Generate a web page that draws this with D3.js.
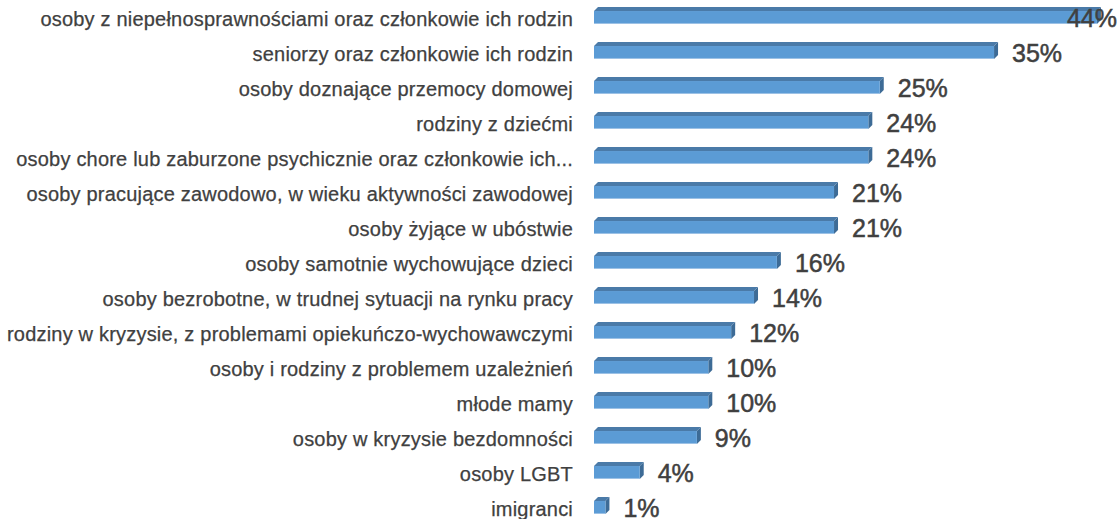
<!DOCTYPE html>
<html>
<head>
<meta charset="utf-8">
<script src="https://cdn.jsdelivr.net/npm/d3@7"></script>
<style>
  body { margin: 0; background: #fff; }
  svg { display: block; }
</style>
</head>
<body>
<svg id="chart" width="1119" height="519"></svg>
<script>
// categories, top to bottom
var categories = [
  "osoby z niepełnosprawnościami oraz członkowie ich rodzin",
  "seniorzy oraz członkowie ich rodzin",
  "osoby doznające przemocy domowej",
  "rodziny z dziećmi",
  "osoby chore lub zaburzone psychicznie oraz członkowie ich...",
  "osoby pracujące zawodowo, w wieku aktywności zawodowej",
  "osoby żyjące w ubóstwie",
  "osoby samotnie wychowujące dzieci",
  "osoby bezrobotne, w trudnej sytuacji na rynku pracy",
  "rodziny w kryzysie, z problemami opiekuńczo-wychowawczymi",
  "osoby i rodziny z problemem uzależnień",
  "młode mamy",
  "osoby w kryzysie bezdomności",
  "osoby LGBT",
  "imigranci"
];
var values = [44, 35, 25, 24, 24, 21, 21, 16, 14, 12, 10, 10, 9, 4, 1];

var svg = d3.select("#chart");

var x0 = 594;
var x = d3.scaleLinear().domain([0, 50]).range([x0, x0 + 571.5]);
var y = d3.scaleBand().domain(categories).range([0, 525]).paddingInner(0.63).paddingOuter(0.315);

var depth = 4;
var bh = y.bandwidth();

var bars = svg.append("g").selectAll("g").data(categories).join("g");

// side face
bars.append("path")
  .attr("fill", "#3d6b96")
  .attr("d", function (d, i) {
    var xe = x(values[i]), yt = y(d);
    return "M" + xe + "," + yt + "L" + (xe + depth) + "," + (yt - depth) +
      "L" + (xe + depth) + "," + (yt + bh - depth) + "L" + xe + "," + (yt + bh) + "Z";
  });
// top face
bars.append("path")
  .attr("fill", "#4a7aa8")
  .attr("d", function (d, i) {
    var xe = x(values[i]), yt = y(d);
    return "M" + x(0) + "," + yt + "L" + (x(0) + depth) + "," + (yt - depth) +
      "L" + (xe + depth) + "," + (yt - depth) + "L" + xe + "," + yt + "Z";
  });
// front face
bars.append("rect")
  .attr("x", x(0))
  .attr("y", function (d) { return y(d); })
  .attr("width", function (d, i) { return x(values[i]) - x(0); })
  .attr("height", bh)
  .attr("fill", "#5b9bd5");
bars.append("line")
  .attr("x1", x(0))
  .attr("x2", function (d, i) { return x(values[i]); })
  .attr("y1", function (d) { return y(d) + bh - 0.5; })
  .attr("y2", function (d) { return y(d) + bh - 0.5; })
  .attr("stroke", "#9fc3e6")
  .attr("stroke-width", 1);

// category labels
svg.append("g").selectAll("text").data(categories).join("text")
  .attr("x", 573)
  .attr("y", function (d) { return y(d) + bh / 2 + 8; })
  .attr("text-anchor", "end")
  .attr("fill", "#404040")
  .attr("stroke", "#404040")
  .attr("stroke-width", 0.25)
  .style("font-family", "'Liberation Sans', Arial, sans-serif")
  .style("font-size", "20px")
  .style("letter-spacing", "0.2px")
  .text(function (d) { return d; });

// value labels (pushed left when they'd run off the right edge)
var vl = svg.append("g").selectAll("text").data(categories).join("text")
  .attr("y", function (d) { return y(d) + bh / 2 + 9.5; })
  .attr("fill", "#404040")
  .attr("stroke", "#404040")
  .attr("stroke-width", 0.5)
  .style("font-family", "'Liberation Sans', Arial, sans-serif")
  .style("font-size", "25px")
  .text(function (d, i) { return values[i] + "%"; });
vl.attr("x", function (d, i) {
  var w = this.getComputedTextLength();
  return Math.min(x(values[i]) + 18, 1117 - w);
});
</script>
</body>
</html>
